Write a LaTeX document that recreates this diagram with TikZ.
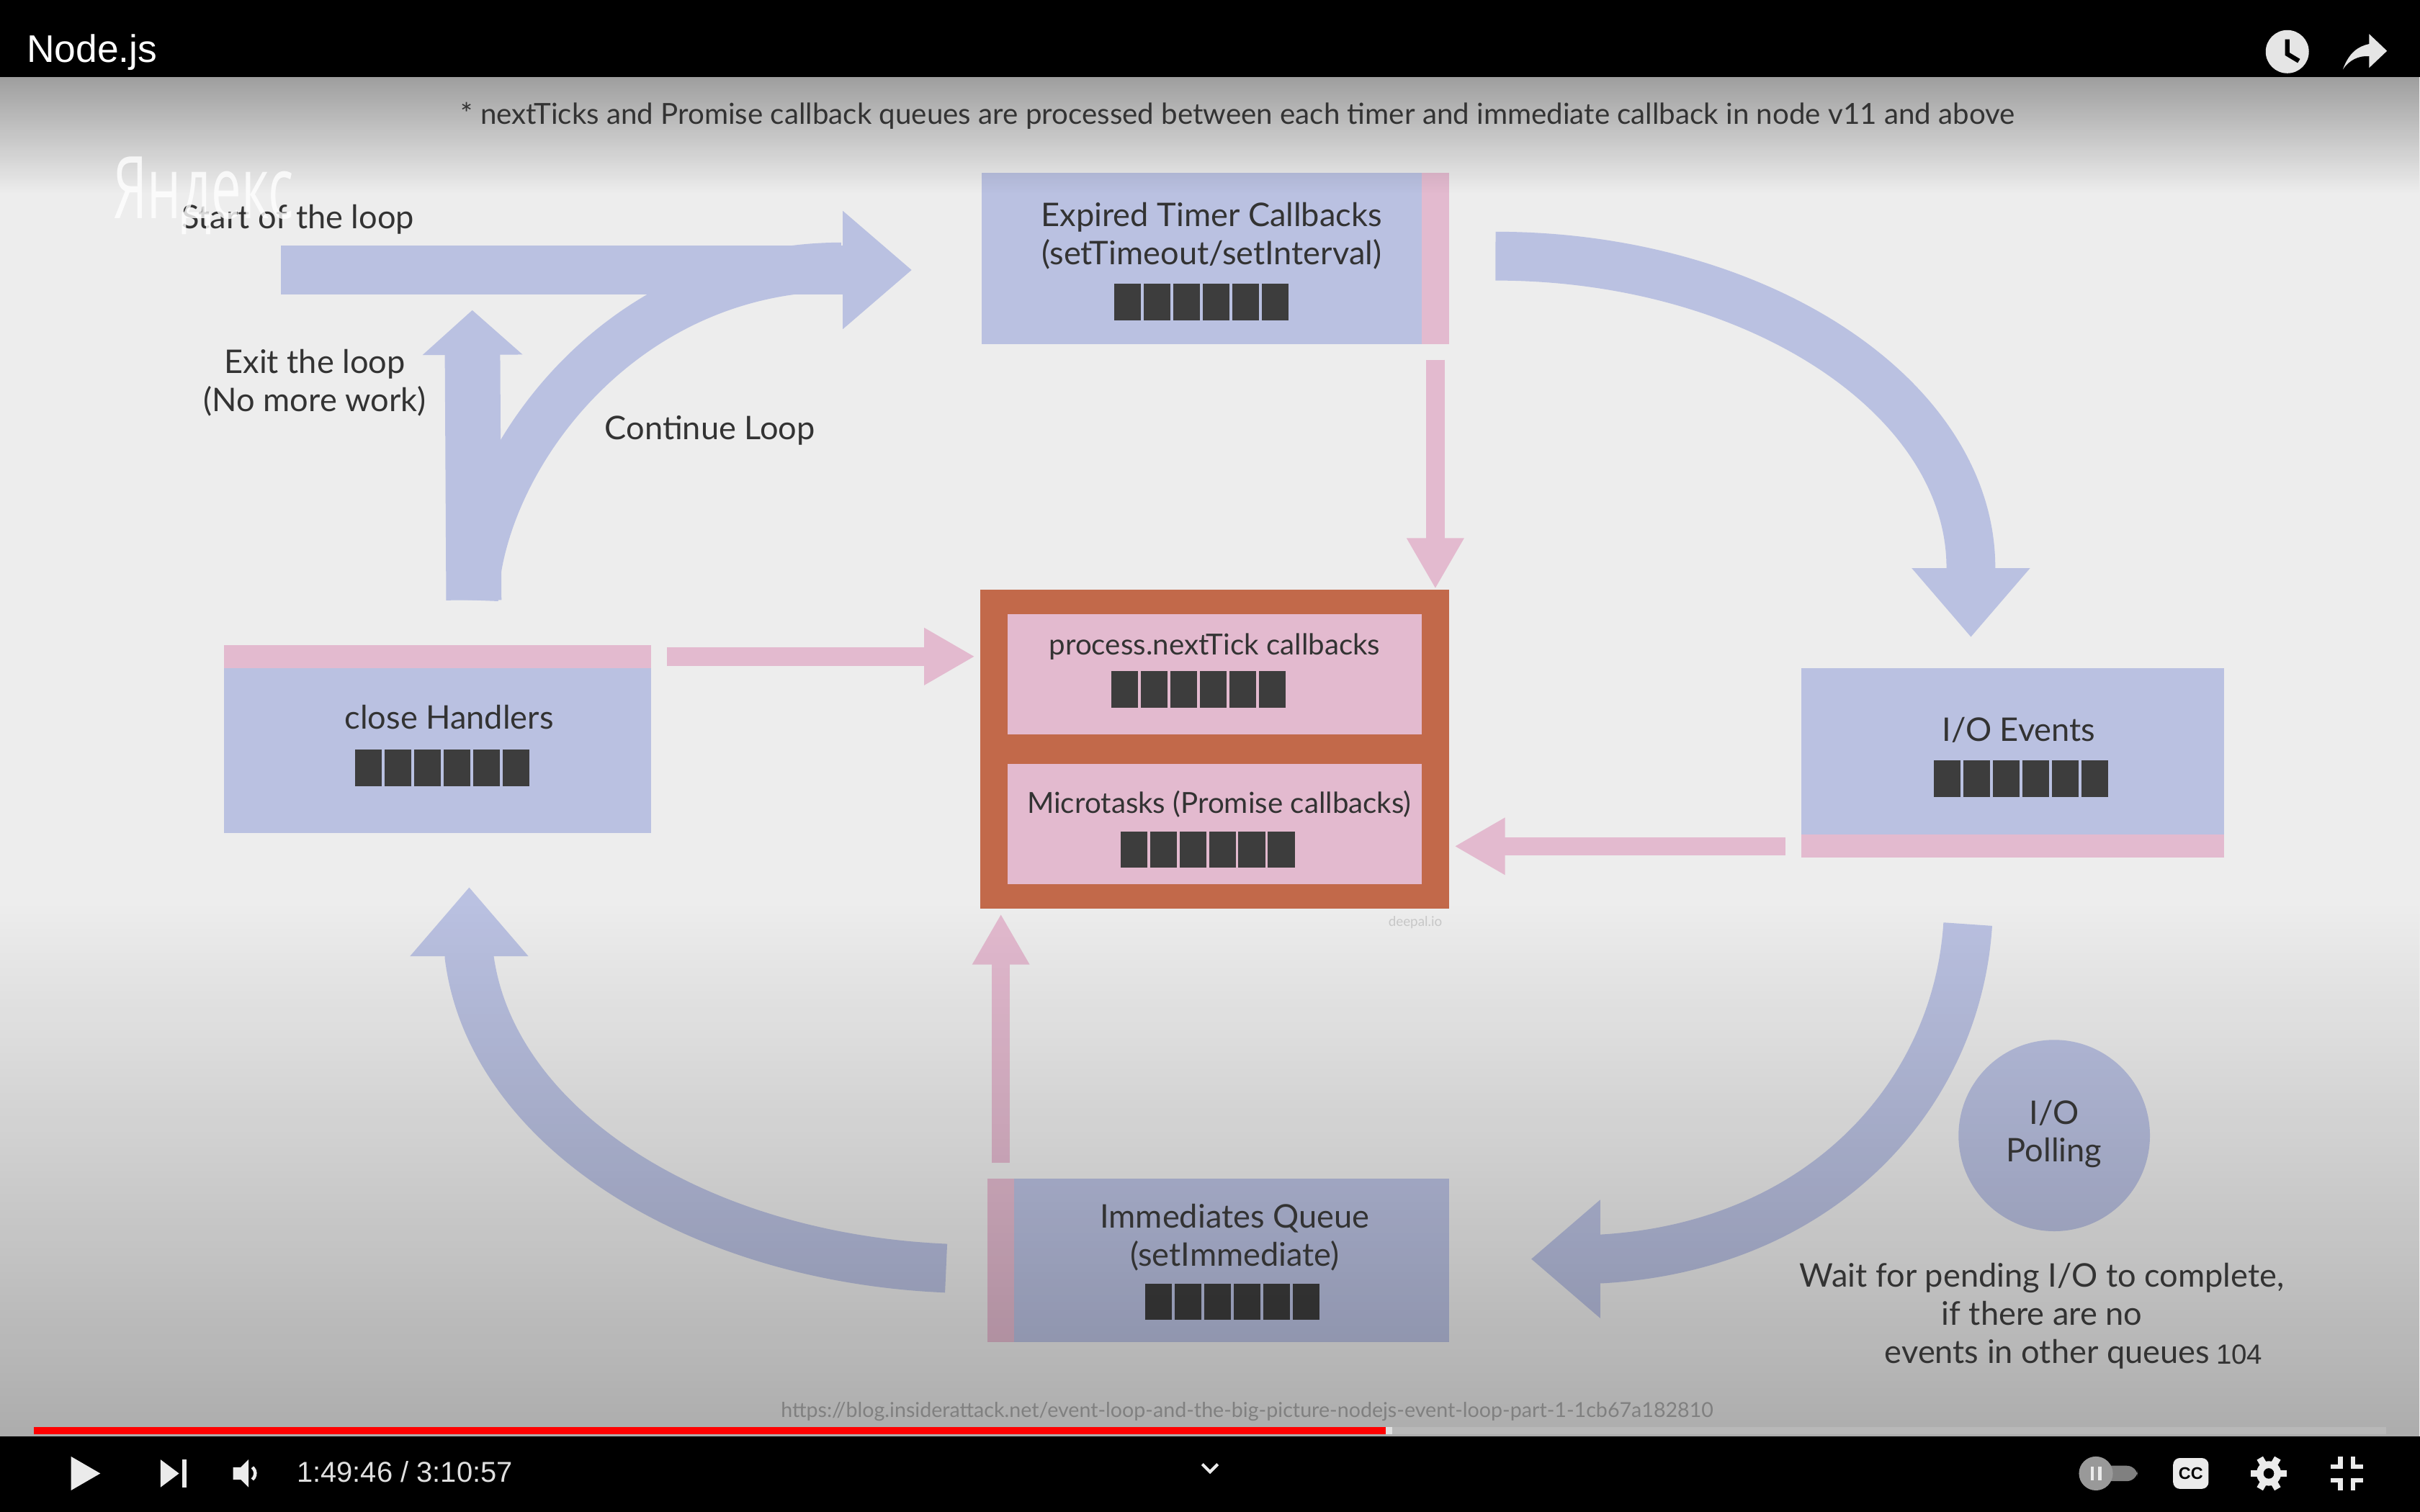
\documentclass[tikz,border=0pt]{standalone}
\usepackage{fontspec}
\setmainfont{Lato}
\newfontfamily\playerfont{Liberation Sans}
\newfontfamily\markfont{Open Sans}
\usetikzlibrary{arrows.meta}
\usetikzlibrary{fadings}
\definecolor{flowblue}{HTML}{BAC1E1}
\definecolor{flowpink}{HTML}{E3BACF}
\definecolor{panelorange}{HTML}{C2694A}
\definecolor{cellgray}{HTML}{3D3D3D}
\definecolor{labelgray}{HTML}{333333}
\tikzfading[name=fade top dim, top color=transparent!67, bottom color=transparent!100]
\tikzfading[name=fade bottom dim, top color=transparent!100, bottom color=transparent!73]
\tikzset{boxsize/.style 2 args={minimum width=#1*0.02cm, minimum height=#2*0.02cm}}
\tikzset{bluebox/.style={rectangle, fill=flowblue, inner sep=0pt}}
\tikzset{pinkbox/.style={rectangle, fill=flowpink, inner sep=0pt}}
\tikzset{boxlabel/.style={text=labelgray, inner sep=0pt, align=center, font=\fontsize{12}{14}\selectfont}}
\tikzset{smalllabel/.style={boxlabel, font=\fontsize{10.7}{13}\selectfont}}
\tikzset{bigflow/.style={draw=flowblue, line width=18pt, -{Triangle[width=42pt,length=25.5pt]}}}
\tikzset{pinkflow/.style={draw=flowpink, line width=6.8pt, -{Triangle[width=19.8pt,length=18.7pt]}}}
\tikzset{queuebar/.pic={\foreach \i in {0,...,5} \fill[cellgray] (\i*19.1,0) rectangle ++(17.4,23.5);}}
\begin{document}
\begin{tikzpicture}[x=0.02cm,y=-0.02cm]
	\useasboundingbox (0,0) rectangle (1568,980);
	\fill[black!7] (0,50) rectangle (1568,931);
	% boxes
	\node[bluebox, boxsize={303}{111}] (timerbox) at (787.5,167.5) {};
	\node[pinkbox, boxsize={18}{111}, anchor=east] (timerstrip) at (timerbox.east) {};
	\node[bluebox, boxsize={277}{122}] (closebox) at (283.5,479) {};
	\node[pinkbox, boxsize={277}{15}, anchor=north] (closestrip) at (closebox.north) {};
	\node[bluebox, boxsize={274}{123}] (iobox) at (1304,494.5) {};
	\node[pinkbox, boxsize={274}{15}, anchor=south] (iostrip) at (iobox.south) {};
	\node[bluebox, boxsize={299}{106}] (immbox) at (789.5,817) {};
	\node[pinkbox, boxsize={17}{106}, anchor=west] (immstrip) at (immbox.west) {};
	\node[rectangle, fill=panelorange, inner sep=0pt, boxsize={304}{207}] (queuepanel) at (787,485.5) {};
	\node[pinkbox, boxsize={268}{78}] (tickbox) at (787,437) {};
	\node[pinkbox, boxsize={268}{78}] (microbox) at (787,534) {};
	\node[circle, fill=flowblue, inner sep=0pt, minimum size=124*0.02cm] (pollcircle) at (1331,736) {};
	\pic at (722,184) {queuebar};
	\pic at (230,486) {queuebar};
	\pic at (1253,493) {queuebar};
	\pic at (742,832) {queuebar};
	\pic at (720,435) {queuebar};
	\pic at (726,539) {queuebar};
	% free ends of the big arrows
	\coordinate (loopstart) at (182,175);
	\coordinate (forkpoint) at (307,389);
	\coordinate (exittip) at (306,201);
	\coordinate (mergepoint) at (545,173);
	\coordinate (timerexit) at (969,166);
	\coordinate (iobend) at (1277,368);
	\coordinate (iotip) at (1277,413);
	\coordinate (iofrom) at (1275,599);
	\coordinate (immbend) at (1037,816);
	\coordinate (immtip) at (992,816);
	\coordinate (immfrom) at (613,822);
	\coordinate (closebend) at (304,620);
	\coordinate (closetip) at (304,575);
	\draw[bigflow, shorten >=25.5pt] (loopstart) -- (loopstart -| timerbox.west);
	\draw[draw=flowblue, line width=18pt] (forkpoint) .. controls (310,300) and (400,173) .. (mergepoint);
	\draw[draw=flowblue, line width=20.4pt, -{Triangle[width=36pt,length=16.5pt]}] (forkpoint) -- (exittip);
	\draw[bigflow] (timerexit) .. controls (1138,166) and (1277,257) .. (iobend) -- (iotip);
	\draw[bigflow] (iofrom) .. controls (1268,710) and (1180,808) .. (immbend) -- (immtip);
	\draw[bigflow] (immfrom) .. controls (450,815) and (318,730) .. (closebend) -- (closetip);
	\draw[pinkflow, shorten <=5.6pt] (timerstrip.south) -- (timerstrip.south |- queuepanel.north);
	\draw[pinkflow, shorten <=5.6pt, shorten >=1.7pt] (closestrip.east) -- (closestrip.east -| queuepanel.west);
	\draw[pinkflow, shorten <=5.6pt, shorten >=1.7pt] (iostrip.west) -- (iostrip.west -| queuepanel.east);
	\draw[pinkflow, shorten <=5.6pt, shorten >=1.7pt] (immstrip.north) -- (immstrip.north |- queuepanel.south);
	% dimming of the video frame
	\fill[black, path fading=fade top dim] (0,50) rectangle (1568,125);
	\fill[black, path fading=fade bottom dim] (0,585) rectangle (1568,931);
	% labels
	\node[smalllabel] (notetext) at (802,75) {* nextTicks and Promise callback queues are processed between each timer and immediate callback in node v11 and above};
	\node[boxlabel] (timerlabel) at (785,153) {Expired Timer Callbacks\\(setTimeout/setInterval)};
	\node[smalllabel] (ticklabel) at (787,419) {process.nextTick callbacks};
	\node[smalllabel] (microlabel) at (790,521) {Microtasks (Promise callbacks)};
	\node[boxlabel] (closelabel) at (291,465) {close Handlers};
	\node[boxlabel] (iolabel) at (1308,473) {I/O Events};
	\node[boxlabel] (immlabel) at (800,802) {Immediates Queue\\(setImmediate)};
	\node[boxlabel] (polllabel) at (1331,735) {I/O\\Polling};
	\node[boxlabel] (startlabel) at (193,142) {Start of the loop};
	\node[boxlabel] (exitlabel) at (204,248) {Exit the loop\\(No more work)};
	\node[boxlabel] (continuelabel) at (460,279) {Continue Loop};
	\node[boxlabel] (waitlabel) at (1323,853) {Wait for pending I/O to complete,\\if there are no\\\hspace*{4pt}events in other queues};
	\node[text=labelgray, inner sep=0pt, font=\playerfont\fontsize{10.2}{12}\selectfont] (slidenumber) at (1451,878) {104};
	\node[text=black!22, inner sep=0pt, font=\fontsize{5}{6}\selectfont] (sitemark) at (917,598) {deepal.io};
	\node[text=black!50, inner sep=0pt, font=\fontsize{7.6}{9}\selectfont] (urltext) at (808,915) {https://blog.insiderattack.net/event-loop-and-the-big-picture-nodejs-event-loop-part-1-1cb67a182810};
	\node[text=white, opacity=0.8, inner sep=0pt, anchor=west] (yandexmark) at (73,127) {\resizebox{2.34cm}{0.8cm}{\markfont Яндекс}};
	% player chrome
	\fill[black] (0,0) rectangle (1568,50);
	\fill[black] (0,931) rectangle (1568,980);
	\node[text=white, inner sep=0pt, anchor=west, font=\playerfont\fontsize{14.2}{16}\selectfont] (videotitle) at (17,34) {Node.js};
	\fill[white!90!black] (1482,33.5) circle (14);
	\draw[black, line width=1.7pt] (1482,25.5) -- (1482,35) -- (1489.5,39.5);
	\fill[white!90!black] (1518,45) .. controls (1522,34) and (1528,30) .. (1535,28.5) -- (1535,22) -- (1546.6,33) -- (1535,44) -- (1535,36.4) .. controls (1528,36) and (1522,39) .. cycle;
	\fill[black!28] (22,925) rectangle (1546,929.5);
	\fill[red] (22,925) rectangle (898,929.5);
	\fill[black!12] (898,925) rectangle (902,929.5);
	\fill[white!92!black] (46,944) -- (65,955) -- (46,966) -- cycle;
	\fill[white!92!black] (104,946) -- (116,955) -- (104,964) -- cycle;
	\fill[white!92!black] (118,946) rectangle (121,964);
	\fill[white!92!black] (151,951) -- (156,951) -- (161,946) -- (161,964) -- (156,959) -- (151,959) -- cycle;
	\draw[white!92!black, line width=1.2pt] (163.5,951) arc (-50:50:5.2);
	\node[text=white!88!black, inner sep=0pt, anchor=west, font=\playerfont\fontsize{10.6}{12}\selectfont] (timetext) at (192,954) {1:49:46 / 3:10:57};
	\draw[white!92!black, line width=1.1pt] (779,949) -- (784,954) -- (789,949);
	\fill[black!50, rounded corners=4] (1350,950) rectangle (1385,960);
	\fill[black!40] (1358,955) circle (11);
	\fill[white!92!black] (1354.5,950.5) rectangle (1356.7,959.5);
	\fill[white!92!black] (1359.3,950.5) rectangle (1361.5,959.5);
	\fill[white!92!black, rounded corners=2.5] (1408,945) rectangle (1431,965);
	\node[text=black, inner sep=0pt, font=\playerfont\bfseries\fontsize{6.2}{7}\selectfont] (cclabel) at (1419.5,955) {CC};
	\fill[white!92!black] (1470,955) circle (8);
	\foreach \a in {0,60,...,300} \draw[white!92!black, line width=2.6pt] (1470,955) ++(\a:6) -- ++(\a:5.5);
	\fill[black] (1470,955) circle (3.4);
	\foreach \sx/\sy in {1/1,-1/1,1/-1,-1/-1}
		\draw[white!92!black, line width=1.7pt] (1520.5+\sx*4,955+\sy*11) -- (1520.5+\sx*4,955+\sy*4.5) -- (1520.5+\sx*10.5,955+\sy*4.5);
\end{tikzpicture}
\end{document}
